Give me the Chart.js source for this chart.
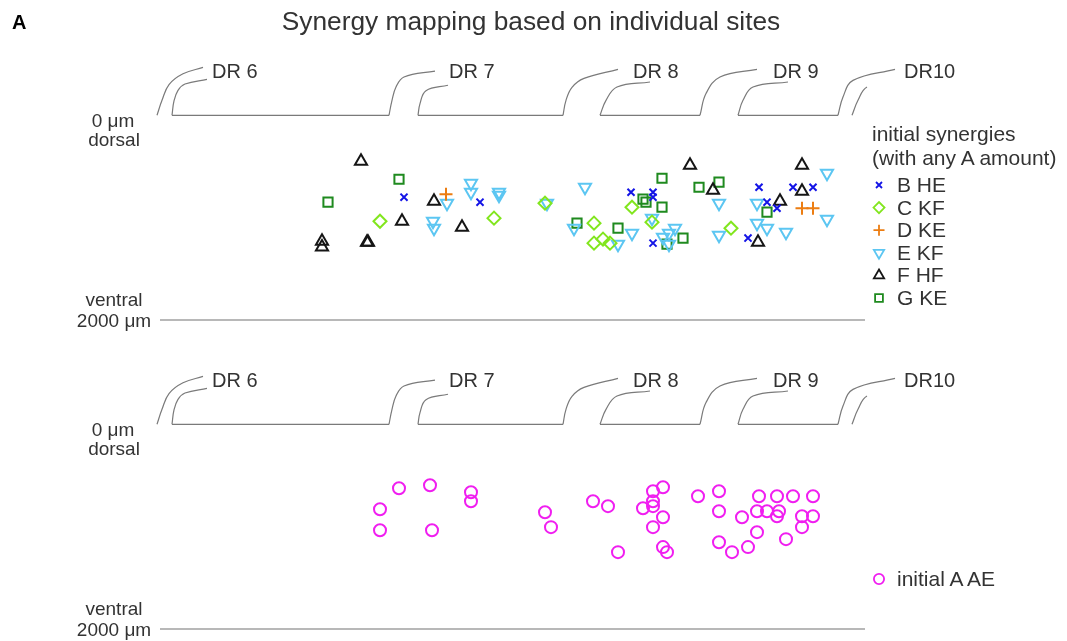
<!DOCTYPE html>
<html>
<head>
<meta charset="utf-8">
<script src="https://cdn.jsdelivr.net/npm/chart.js@4/dist/chart.umd.min.js"></script>
<style>
  body { margin: 0; background: #fff; width: 1067px; height: 641px; overflow: hidden; position: relative;
         font-family: "Liberation Sans", Arial, sans-serif; color: #333; }
  canvas { position: absolute; left: 0; }
  .t { position: absolute; white-space: nowrap; line-height: 1; }
</style>
</head>
<body>
<canvas id="topChart" width="1067" height="330" style="top:0"></canvas>
<canvas id="bottomChart" width="1067" height="330" style="top:309px"></canvas>
<div id="labels"></div>
<script>
// x = rostrocaudal position along the cord (a.u.), y = depth from dorsal surface (µm)
const xRange = [0, 705];
const depthRange = [-540, 2000];

// initial synergies (top panel)
const bHE_x = [244, 320, 471, 493, 493, 493, 599, 588, 607, 617, 633, 653];
const bHE_y = [800, 849, 752, 752, 800, 1249, 703, 1200, 849, 908, 703, 703];

const cKF_x = [220, 334, 385, 472, 434, 434, 443, 450, 492, 571];
const cKF_y = [1035, 1005, 859, 898, 1054, 1249, 1210, 1249, 1044, 1103];

const dKE_x = [286, 642, 653];
const dKE_y = [771, 908, 908];

const eKF_x = [287, 311, 311, 339, 339, 387, 273, 274, 414, 425, 492, 458, 472, 503, 509, 515, 509, 559, 559, 597, 597, 607, 626, 667, 667];
const eKF_y = [859, 664, 752, 752, 781, 859, 1035, 1103, 1103, 703, 1005, 1259, 1152, 1191, 1152, 1103, 1259, 859, 1171, 859, 1054, 1103, 1142, 566, 1015];

const fHF_x = [201, 274, 242, 302, 162, 162, 207, 208, 530, 553, 598, 620, 642, 642];
const fHF_y = [449, 839, 1035, 1093, 1230, 1288, 1240, 1240, 488, 732, 1240, 839, 488, 742];

const gKE_x = [239, 168, 417, 483, 486, 502, 502, 539, 559, 458, 507, 523, 607];
const gKE_y = [625, 849, 1054, 820, 849, 615, 898, 703, 654, 1103, 1259, 1200, 947];

// initial A AE (bottom panel)
const aAE_x = [239, 270, 311, 311, 220, 220, 272, 385, 391, 433, 448, 458, 493, 503, 493, 483, 493, 503, 493, 503,
               507, 538, 559, 559, 559, 572, 582, 588, 597, 597, 607, 619, 617, 599, 617, 633, 653, 626, 642, 653, 642];
const aAE_y = [625, 595, 664, 752, 830, 1035, 1035, 859, 1005, 752, 800, 1249, 654, 615, 752, 820, 800, 908, 1005, 1200,
               1249, 703, 654, 849, 1152, 1249, 908, 1200, 1054, 849, 849, 849, 898, 703, 703, 703, 703, 1122, 898, 898, 1005];

// dorsal root outlines (x a.u., y µm; negative = above the dorsal surface)
const rootCurves = [
  [[-3, 0], [2, -146], [9, -300], [23, -405], [43, -468]],
  [[12, 0], [14, -140], [18, -244], [25, -305], [47, -350]],
  [[229, 0], [232, -146], [236, -276], [244, -374], [275, -432]],
  [[258, 0], [260, -114], [266, -240], [288, -293]],
  [[403, 0], [406, -146], [412, -273], [424, -360], [458, -449]],
  [[440, 0], [446, -146], [457, -276], [490, -325]],
  [[540, 0], [546, -212], [560, -374], [597, -449]],
  [[578, 0], [583, -146], [593, -276], [628, -325]],
  [[678, 0], [683, -179], [693, -341], [735, -449]],
  [[692, 0], [698, -146], [707, -276], [735, -335]]
];
const dorsalSegments = [[12, 229], [258, 403], [440, 540], [578, 678]];
const rootNames = ['DR 6', 'DR 7', 'DR 8', 'DR 9', 'DR10'];

function pts(xs, ys) {
  return xs.map((x, i) => ({x: x, y: ys[i]}));
}

function outlineDatasets() {
  const sets = rootCurves.map(c => ({
    data: c.map(p => ({x: p[0], y: p[1]})),
    showLine: true, pointRadius: 0, borderColor: '#7a7a7a', borderWidth: 1.2,
    tension: 0.4, clip: false
  }));
  dorsalSegments.forEach(s => sets.push({
    data: [{x: s[0], y: 0}, {x: s[1], y: 0}],
    showLine: true, pointRadius: 0, borderColor: '#7a7a7a', borderWidth: 1.2, clip: false
  }));
  sets.push({
    data: [{x: xRange[0], y: depthRange[1]}, {x: xRange[1], y: depthRange[1]}],
    showLine: true, pointRadius: 0, borderColor: '#a0a0a0', borderWidth: 1.5, clip: false
  });
  return sets;
}

function markerSet(label, data, style, color, radius, rotation) {
  return {
    label: label, data: data, pointStyle: style, pointRadius: radius, pointRotation: rotation || 0,
    pointBorderColor: color, pointBackgroundColor: 'rgba(0,0,0,0)', pointBorderWidth: 2, clip: false
  };
}

const topSets = [
  markerSet('B HE', pts(bHE_x, bHE_y), 'crossRot', '#1414e6', 5),
  markerSet('C KF', pts(cKF_x, cKF_y), 'rectRot', '#82e61e', 6.5),
  markerSet('D KE', pts(dKE_x, dKE_y), 'cross', '#ec7d12', 6.5),
  markerSet('E KF', pts(eKF_x, eKF_y), 'triangle', '#5cc6f2', 7, 180),
  markerSet('F HF', pts(fHF_x, fHF_y), 'triangle', '#151515', 7),
  markerSet('G KE', pts(gKE_x, gKE_y), 'rect', '#1f8a1f', 6.5)
];
const bottomSets = [
  markerSet('initial A AE', pts(aAE_x, aAE_y), 'circle', '#f01ef0', 6)
];

// draws the legend symbols next to the html legend text
const legendMarkers = {
  id: 'legendMarkers',
  afterDraw(chart, args, opts) {
    const ctx = chart.ctx;
    chart.data.datasets.filter(d => d.label).forEach((d, i) => {
      ctx.save();
      ctx.strokeStyle = d.pointBorderColor;
      ctx.fillStyle = 'rgba(0,0,0,0)';
      ctx.lineWidth = 1.8;
      Chart.helpers.drawPoint(ctx, {
        pointStyle: d.pointStyle, rotation: d.pointRotation,
        radius: d.pointRadius * 0.85, borderWidth: 1.8
      }, opts.x, opts.y0 + i * opts.dy);
      ctx.restore();
    });
  }
};

function makeChart(id, sets, legendY0) {
  return new Chart(document.getElementById(id), {
    type: 'scatter',
    data: {datasets: outlineDatasets().concat(sets)},
    options: {
      responsive: false, animation: false, events: [],
      layout: {padding: {left: 160, right: 202, top: 60, bottom: 10}},
      scales: {
        x: {type: 'linear', min: xRange[0], max: xRange[1], display: false},
        y: {type: 'linear', min: depthRange[0], max: depthRange[1], reverse: true, display: false}
      },
      plugins: {
        legend: {display: false}, tooltip: {enabled: false},
        legendMarkers: {x: 879, y0: legendY0, dy: 22.6}
      }
    },
    plugins: [legendMarkers]
  });
}

makeChart('topChart', topSets, 185);
makeChart('bottomChart', bottomSets, 270);

// text
const box = document.getElementById('labels');
function label(text, x, y, size, align, extra) {
  const d = document.createElement('div');
  d.className = 't';
  d.textContent = text;
  d.style.left = x + 'px';
  d.style.top = (y - size * 0.52) + 'px';
  d.style.fontSize = size + 'px';
  if (align === 'center') d.style.transform = 'translateX(-50%)';
  if (extra) Object.assign(d.style, extra);
  box.appendChild(d);
}

label('A', 12, 22, 20, 'left', {fontWeight: 'bold', color: '#000'});
label('Synergy mapping based on individual sites', 531, 22, 26.3, 'center');

const rootLabelX = [212, 449, 633, 773, 904];
[0, 309].forEach(off => {
  rootNames.forEach((n, i) => label(n, rootLabelX[i], 71 + off, 20, 'left'));
  label('0 μm', 113, 121 + off, 19, 'center');
  label('dorsal', 114, 140 + off, 19, 'center');
  label('ventral', 114, 300 + off, 19, 'center');
  label('2000 μm', 114, 321 + off, 19, 'center');
});

label('initial synergies', 872, 134, 21, 'left');
label('(with any A amount)', 872, 158, 21, 'left');
topSets.forEach((s, i) => label(s.label, 897, 185 + i * 22.6, 21, 'left'));
bottomSets.forEach((s, i) => label(s.label, 897, 579 + i * 22.6, 21, 'left'));
</script>
</body>
</html>
